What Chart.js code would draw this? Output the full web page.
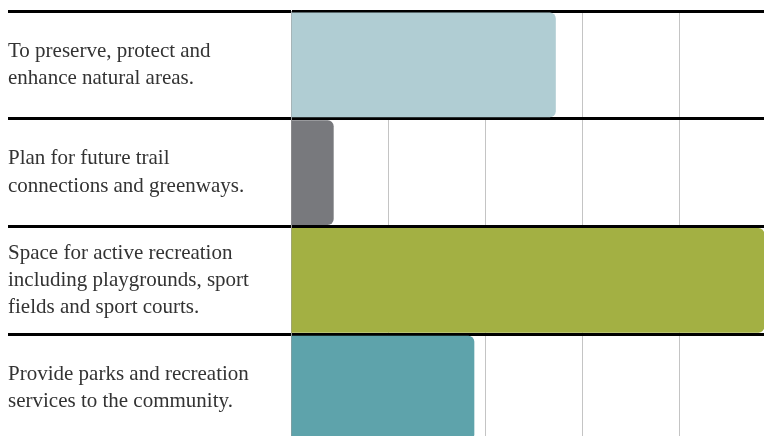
<!DOCTYPE html>
<html>
<head>
<meta charset="utf-8">
<script src="https://cdn.jsdelivr.net/npm/chart.js@4/dist/chart.umd.min.js"></script>
<style>
  html, body { margin: 0; padding: 0; background: #fff; overflow: hidden; }
  #wrap { width: 800px; height: 446px; position: relative; }
</style>
</head>
<body>
<div id="wrap"><canvas id="goalsChart"></canvas></div>
<script>
// Survey answers (share of responses, %)
const categories = [
    ['To preserve, protect and', 'enhance natural areas.'],
    ['Plan for future trail', 'connections and greenways.'],
    ['Space for active recreation', 'including playgrounds, sport', 'fields and sport courts.'],
    ['Provide parks and recreation', 'services to the community.']
];
const shares = [27.3, 4.4, 48.8, 18.9];
const barColors = ['#b0cdd3', '#78797d', '#a3b043', '#5ea3ab'];

const ctx = document.getElementById('goalsChart').getContext('2d');

const chart = new Chart(ctx, {
    type: 'bar',
    data: {
        labels: categories,
        datasets: [{
            data: shares,
            backgroundColor: barColors,
            borderWidth: 0,
            borderRadius: 6,
            categoryPercentage: 1,
            barPercentage: 0.97
        }]
    },
    options: {
        indexAxis: 'y',
        responsive: true,
        maintainAspectRatio: false,
        animation: false,
        layout: {
            padding: { left: 8, top: 11, right: 24, bottom: 4 }
        },
        scales: {
            x: {
                min: 0,
                max: 50,
                ticks: { display: false, stepSize: 10 },
                grid: {
                    color: '#c4c4c4',
                    lineWidth: 1,
                    drawTicks: false
                },
                border: { display: false }
            },
            y: {
                z: 1,
                afterFit: function (scale) {
                    scale.width = 283;
                    scale.paddingTop = 0;
                    scale.paddingBottom = 0;
                },
                grid: {
                    color: '#000',
                    lineWidth: 3,
                    tickLength: 283,
                    tickColor: '#000',
                    tickWidth: 3
                },
                border: { color: '#9a9a9a', width: 1 },
                ticks: {
                    autoSkip: false,
                    crossAlign: 'far',
                    color: '#333',
                    font: {
                        family: '"Liberation Serif", serif',
                        size: 21,
                        lineHeight: 1.3
                    }
                }
            }
        },
        plugins: {
            legend: { display: false },
            tooltip: { enabled: false }
        }
    }
});
</script>
</body>
</html>
